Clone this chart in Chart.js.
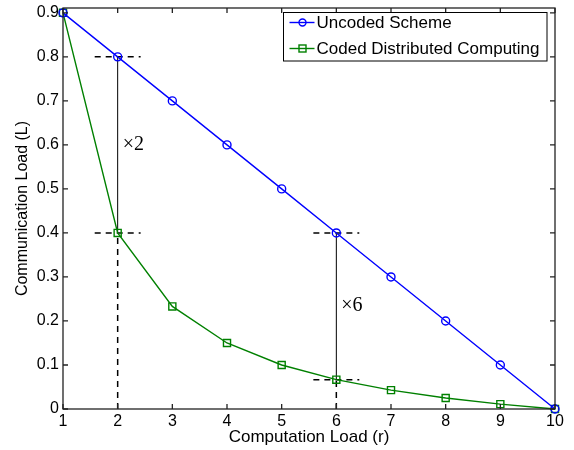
<!DOCTYPE html>
<html>
<head>
<meta charset="utf-8">
<script src="https://cdn.jsdelivr.net/npm/chart.js@4.4.0/dist/chart.umd.min.js"></script>
<style>
  html, body { margin: 0; padding: 0; background: #fff; }
  #wrap { width: 574px; height: 450px; }
</style>
</head>
<body>
<div id="wrap"><canvas id="loadChart"></canvas></div>
<script>
// data
var loadR = [1, 2, 3, 4, 5, 6, 7, 8, 9, 10];
var uncoded = [0.9, 0.8, 0.7, 0.6, 0.5, 0.4, 0.3, 0.2, 0.1, 0];
var coded = [0.9, 0.4, 0.233, 0.15, 0.1, 0.0667, 0.0429, 0.025, 0.0111, 0];
var yTicks = [0, 0.1, 0.2, 0.3, 0.4, 0.5, 0.6, 0.7, 0.8, 0.9];
var yTickLabels = ['0', '0.1', '0.2', '0.3', '0.4', '0.5', '0.6', '0.7', '0.8', '0.9'];
var xTicks = [1, 2, 3, 4, 5, 6, 7, 8, 9, 10];

// gain markers: [r, lower L, upper L, label, label height]
var gains = [
    [2, 0.4, 0.8, '\u00d72', 0.6],
    [6, 0.0667, 0.4, '\u00d76', 0.235]
];

var FONT = '"Liberation Sans", Arial, Helvetica, sans-serif';

function pts(xs, ys) {
    return xs.map(function (x, i) { return { x: x, y: ys[i] }; });
}

var annot = [];
gains.forEach(function (g) {
    var style = { borderColor: '#000', pointRadius: 0, showLine: true, fill: false, order: 2, clip: false };
    annot.push(Object.assign({ data: [{ x: g[0] - 0.42, y: g[2] }, { x: g[0] + 0.42, y: g[2] }], borderWidth: 1.5, borderDash: [6, 5] }, style));
    annot.push(Object.assign({ data: [{ x: g[0] - 0.42, y: g[1] }, { x: g[0] + 0.42, y: g[1] }], borderWidth: 1.5, borderDash: [6, 5] }, style));
    annot.push(Object.assign({ data: [{ x: g[0], y: 0 }, { x: g[0], y: g[1] }], borderWidth: 1.5, borderDash: [6, 5] }, style));
    annot.push(Object.assign({ data: [{ x: g[0], y: g[1] }, { x: g[0], y: g[2] }], borderWidth: 1 }, style));
});

var series = [
    { label: 'Uncoded Scheme', data: pts(loadR, uncoded), borderColor: '#0000ff', pointStyle: 'circle', pointRadius: 4 },
    { label: 'Coded Distributed Computing', data: pts(loadR, coded), borderColor: '#008000', pointStyle: 'rect', pointRadius: 5 }
];
series.forEach(function (s) {
    s.borderWidth = 1.4;
    s.pointBorderWidth = 1.4;
    s.pointBorderColor = s.borderColor;
    s.pointBackgroundColor = 'rgba(0,0,0,0)';
    s.showLine = true;
    s.fill = false;
    s.order = 0;
    s.clip = false;
});

// frame with inward ticks, legend box and the gain labels
var matlabLook = {
    id: 'matlabLook',
    afterDatasetsDraw: function (chart) {
        var c = chart.ctx, a = chart.chartArea;
        var xs = chart.scales.x, ys = chart.scales.y;
        c.save();
        c.strokeStyle = '#222';
        c.lineWidth = 1.3;
        c.strokeRect(a.left, a.top, a.right - a.left, a.bottom - a.top);
        c.beginPath();
        xTicks.forEach(function (v) {
            var px = xs.getPixelForValue(v);
            c.moveTo(px, a.bottom); c.lineTo(px, a.bottom - 5);
            c.moveTo(px, a.top); c.lineTo(px, a.top + 5);
        });
        yTicks.forEach(function (v) {
            var py = ys.getPixelForValue(v);
            c.moveTo(a.left, py); c.lineTo(a.left + 5, py);
            c.moveTo(a.right, py); c.lineTo(a.right - 5, py);
        });
        c.stroke();

        // gain labels
        c.fillStyle = '#000';
        c.font = '20px "Liberation Serif", "DejaVu Serif", serif';
        c.textBaseline = 'middle';
        c.textAlign = 'left';
        gains.forEach(function (g) {
            c.fillText(g[3], xs.getPixelForValue(g[0]) + 5, ys.getPixelForValue(g[4]));
        });

        // legend
        var lx = 283.5, ly = 12.5, lw = 263.5, lh = 48.5;
        c.fillStyle = '#fff';
        c.fillRect(lx, ly, lw, lh);
        c.strokeStyle = '#000';
        c.lineWidth = 1;
        c.strokeRect(lx, ly, lw, lh);
        c.font = '17px ' + FONT;
        series.forEach(function (s, i) {
            var y = ly + 10 + i * 26;
            c.strokeStyle = s.borderColor;
            c.lineWidth = 1.4;
            c.beginPath();
            c.moveTo(lx + 6, y); c.lineTo(lx + 31, y);
            c.stroke();
            if (s.pointStyle === 'circle') {
                c.beginPath();
                c.arc(lx + 19, y, 3.5, 0, Math.PI * 2);
                c.stroke();
            } else {
                c.strokeRect(lx + 15.5, y - 3.5, 7, 7);
            }
            c.fillStyle = '#000';
            c.fillText(s.label, lx + 33, y + 1);
        });
        c.restore();
    }
};

var ctx = document.getElementById('loadChart').getContext('2d');
var myChart = new Chart(ctx, {
    type: 'scatter',
    data: { datasets: series.concat(annot) },
    options: {
        responsive: true,
        maintainAspectRatio: false,
        animation: false,
        layout: { padding: { top: 8, right: 19, left: 0, bottom: 0 } },
        plugins: {
            legend: { display: false },
            tooltip: { enabled: false }
        },
        scales: {
            x: {
                type: 'linear',
                min: 1,
                max: 10,
                afterBuildTicks: function (scale) {
                    scale.ticks = xTicks.map(function (v) { return { value: v }; });
                },
                afterFit: function (scale) {
                    scale.height = 41;
                    scale.paddingLeft = 0;
                    scale.paddingRight = 0;
                },
                grid: { display: false, drawTicks: false },
                border: { display: false },
                ticks: {
                    padding: 3,
                    color: '#000',
                    maxRotation: 0,
                    font: { family: FONT, size: 16 },
                    callback: function (v) { return String(v); }
                },
                title: {
                    display: true,
                    text: 'Computation Load (r)',
                    color: '#000',
                    font: { family: FONT, size: 17 },
                    padding: { top: 0, bottom: 2 }
                }
            },
            y: {
                type: 'linear',
                min: 0,
                max: 0.911,
                afterBuildTicks: function (scale) {
                    scale.ticks = yTicks.map(function (v) { return { value: v }; });
                },
                afterFit: function (scale) {
                    scale.width = 63;
                    scale.paddingTop = 0;
                    scale.paddingBottom = 0;
                },
                grid: { display: false, drawTicks: false },
                border: { display: false },
                ticks: {
                    padding: 4,
                    color: '#000',
                    font: { family: FONT, size: 16 },
                    callback: function (v, i) { return yTickLabels[i]; }
                },
                title: {
                    display: true,
                    text: 'Communication Load (L)',
                    color: '#000',
                    font: { family: FONT, size: 16 },
                    padding: { top: 13, bottom: 0 }
                }
            }
        }
    },
    plugins: [matlabLook]
});
</script>
</body>
</html>
